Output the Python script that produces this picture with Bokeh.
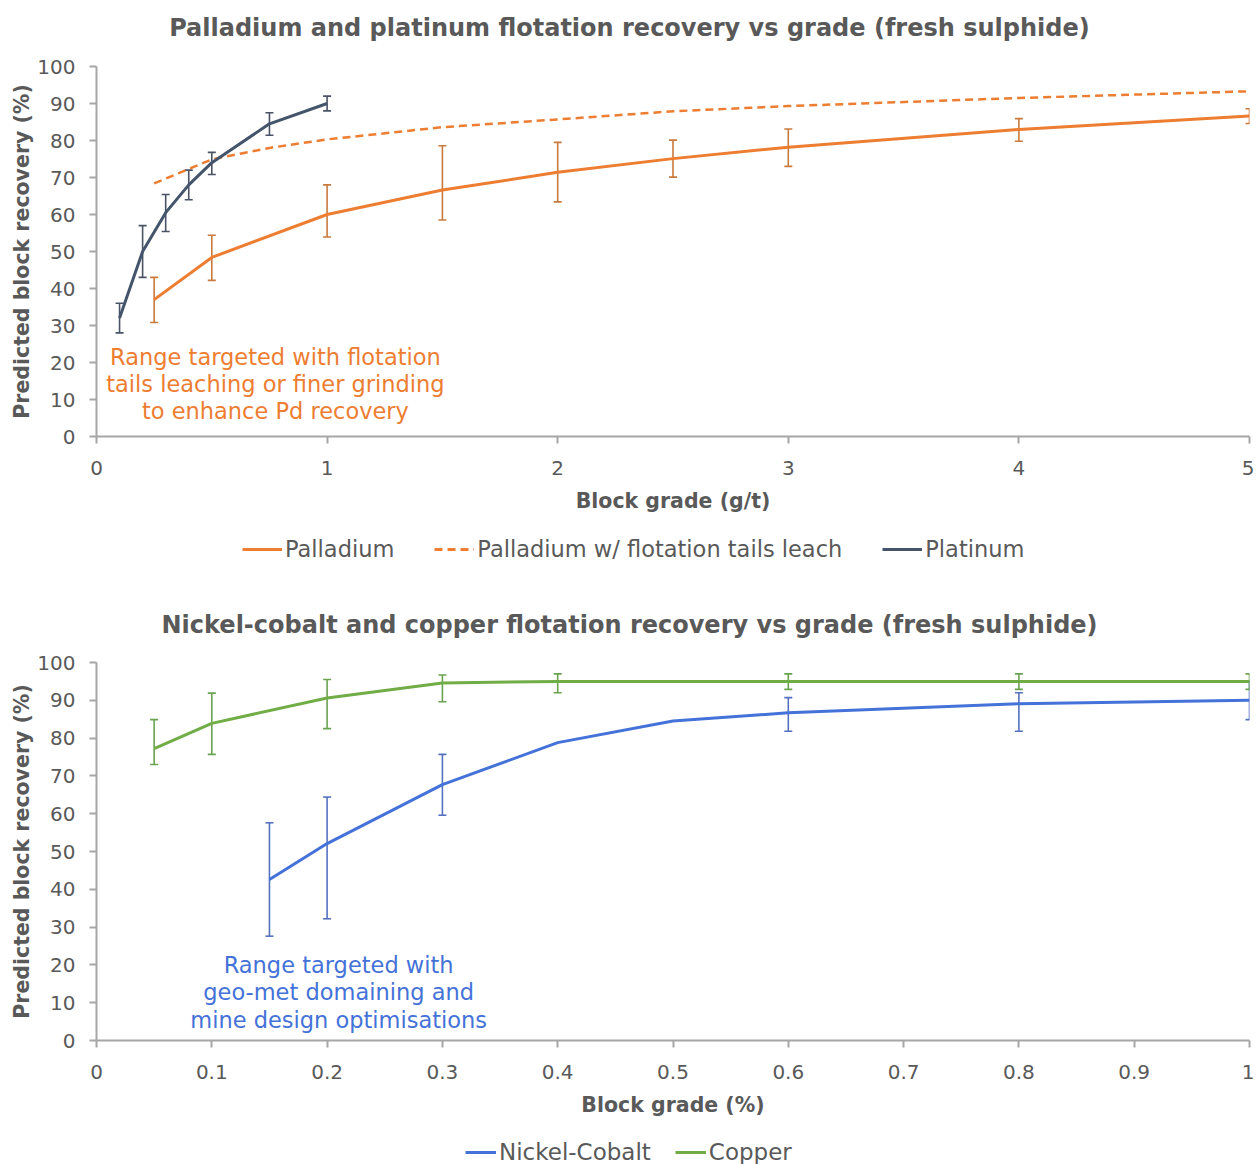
from bokeh.plotting import figure
from bokeh.models import (ColumnDataSource, Whisker, TeeHead, Legend, LegendItem,
                          FixedTicker, Label, Range1d)
from bokeh.layouts import column
from bokeh.embed import file_html
from bokeh.resources import INLINE

# ---------------- DATA: top chart (g/t vs %) ----------------
pd_x = [0.25, 0.5, 1.0, 1.5, 2.0, 2.5, 3.0, 4.0, 5.0]
pd_y = [37.0, 48.4, 60.0, 66.6, 71.4, 75.1, 78.2, 83.0, 86.6]
pd_lo = [30.8, 42.2, 53.9, 58.5, 63.4, 70.1, 73.0, 79.8, 84.6]
pd_hi = [43.0, 54.4, 68.0, 78.6, 79.5, 80.1, 83.1, 85.9, 88.6]

pdl_x = [0.25, 0.5, 0.75, 1.0, 1.5, 2.0, 2.5, 3.0, 4.0, 5.0]
pdl_y = [68.4, 74.9, 78.0, 80.3, 83.6, 85.7, 87.9, 89.3, 91.5, 93.3]

pt_x = [0.1, 0.2, 0.3, 0.4, 0.5, 0.75, 1.0]
pt_y = [32.0, 50.0, 60.5, 68.0, 74.0, 84.5, 90.0]
pt_lo = [28.0, 43.0, 55.4, 64.0, 70.8, 81.4, 88.0]
pt_hi = [36.0, 57.0, 65.4, 72.0, 76.8, 87.5, 92.0]

top_xticks = [0, 1, 2, 3, 4, 5]
y_ticks = [0, 10, 20, 30, 40, 50, 60, 70, 80, 90, 100]

# ---------------- DATA: bottom chart (% vs %) ----------------
ni_x = [0.15, 0.2, 0.3, 0.4, 0.5, 0.6, 0.8, 1.0]
ni_y = [42.6, 52.1, 67.7, 78.8, 84.5, 86.7, 89.1, 90.0]
ni_err_x = [0.15, 0.2, 0.3, 0.6, 0.8, 1.0]
ni_lo = [27.6, 32.2, 59.6, 81.8, 81.8, 84.9]
ni_hi = [57.6, 64.4, 75.7, 90.7, 92.0, 95.0]

cu_x = [0.05, 0.1, 0.2, 0.3, 0.4, 0.6, 0.8, 1.0]
cu_y = [77.2, 83.9, 90.6, 94.6, 95.0, 95.0, 95.0, 95.0]
cu_lo = [73.0, 75.7, 82.5, 89.6, 92.0, 92.9, 92.9, 92.9]
cu_hi = [84.9, 91.9, 95.5, 96.7, 97.0, 97.0, 97.0, 97.0]

bot_xticks = [0, 0.1, 0.2, 0.3, 0.4, 0.5, 0.6, 0.7, 0.8, 0.9, 1]
bot_xlabels = ["0", "0.1", "0.2", "0.3", "0.4", "0.5", "0.6", "0.7", "0.8", "0.9", "1"]

TITLE_TOP = "Palladium and platinum flotation recovery vs grade (fresh sulphide)"
TITLE_BOT = "Nickel-cobalt and copper flotation recovery vs grade (fresh sulphide)"

# ---------------- STYLE ----------------
FONT = "DejaVu Sans"
GREY = "#595959"
AXIS = "#A6A6A6"
ORANGE = "#ED7D31"
ORANGE_ERR = "#C97A3D"
SLATE = "#44546A"
SLATE_ERR = "#4A5365"
BLUE = "#4472D8"
BLUE_ERR = "#5571C0"
GREEN = "#70AD47"
GREEN_ERR = "#6AA350"
W = 1254


def style(p):
    p.outline_line_color = None
    p.xgrid.visible = False
    p.ygrid.visible = False
    for ax in (p.xaxis[0], p.yaxis[0]):
        ax.axis_line_color = AXIS
        ax.axis_line_width = 2
        ax.major_tick_line_color = AXIS
        ax.major_tick_line_width = 2
        ax.major_tick_out = 7
        ax.major_tick_in = 0
        ax.minor_tick_out = 0
        ax.minor_tick_in = 0
        ax.major_label_text_font = FONT
        ax.major_label_text_font_size = "20px"
        ax.major_label_text_color = GREY
        ax.axis_label_text_font = FONT
        ax.axis_label_text_font_size = "20.5px"
        ax.axis_label_text_font_style = "bold"
        ax.axis_label_text_color = GREY
    p.xaxis[0].major_label_standoff = 17
    p.yaxis[0].major_label_standoff = 14
    p.xaxis[0].axis_label_standoff = 11
    p.yaxis[0].axis_label_standoff = 0
    p.yaxis[0].ticker = FixedTicker(ticks=y_ticks)


def strip(height, x_end):
    # blank strip (no axes) used for a chart title or a legend
    f = figure(width=W, height=height, output_backend="svg", toolbar_location=None,
               x_range=Range1d(0, x_end), y_range=Range1d(0, height), min_border=0,
               x_axis_location=None, y_axis_location=None)
    f.outline_line_color = None
    f.xgrid.visible = False
    f.ygrid.visible = False
    return f


def title_fig(height, text, x_end, x, y):
    f = strip(height, x_end)
    f.add_layout(Label(x=x, y=y, text=text, text_align="center", text_baseline="middle",
                       text_font=FONT, text_font_size="24px", text_font_style="bold",
                       text_color=GREY))
    return f


def whisker(p, xs, lo, hi, color):
    src = ColumnDataSource(dict(x=xs, lo=lo, hi=hi))
    w = Whisker(source=src, base="x", lower="lo", upper="hi",
                line_color=color, line_width=1.6,
                upper_head=TeeHead(size=8, line_color=color, line_width=1.6),
                lower_head=TeeHead(size=8, line_color=color, line_width=1.6))
    p.add_layout(w)


def legend_fig(height, specs, loc, glyph_w, spacing, fsize):
    # legend strip: series are drawn off-frame so that only their legend glyphs show
    f = figure(width=W, height=height, output_backend="svg", toolbar_location=None,
               x_range=Range1d(0, 1), y_range=Range1d(-1000, -999), min_border=0,
               x_axis_location=None, y_axis_location=None)
    f.outline_line_color = None
    f.xgrid.visible = False
    f.ygrid.visible = False
    items = []
    for label, xs, ys, color, dash in specs:
        r = f.line(x=xs, y=ys, line_color=color, line_width=3, line_dash=dash)
        items.append(LegendItem(label=label, renderers=[r]))
    leg = Legend(items=items, orientation="horizontal", location=loc,
                 label_text_font=FONT, label_text_font_size=fsize, label_text_color=GREY,
                 glyph_width=glyph_w, glyph_height=20, label_standoff=3, spacing=spacing,
                 padding=0, margin=0, border_line_color=None, background_fill_alpha=0)
    f.add_layout(leg)
    return f


# ---------------- TOP FIGURE ----------------
t1 = title_fig(50, TITLE_TOP, 5, 2.311, 23)

p1 = figure(width=W, height=470, output_backend="svg", toolbar_location=None,
            x_range=Range1d(0, 5), y_range=Range1d(0, 100),
            min_border_left=96, min_border_right=5, min_border_top=16, min_border_bottom=84,
            x_axis_label="Block grade (g/t)", y_axis_label="Predicted block recovery (%)")
style(p1)
p1.xaxis[0].ticker = FixedTicker(ticks=top_xticks)

p1.line(pd_x, pd_y, line_color=ORANGE, line_width=3)
p1.line(pdl_x, pdl_y, line_color=ORANGE, line_width=2.5, line_dash="8 5")
p1.line(pt_x, pt_y, line_color=SLATE, line_width=3)
whisker(p1, pd_x, pd_lo, pd_hi, ORANGE_ERR)
whisker(p1, pt_x, pt_lo, pt_hi, SLATE_ERR)

for txt, yy in [("Range targeted with flotation", 21.6),
                ("tails leaching or finer grinding", 14.2),
                ("to enhance Pd recovery", 6.8)]:
    p1.add_layout(Label(x=0.776, y=yy, text=txt, text_align="center", text_baseline="middle",
                        text_font=FONT, text_font_size="22.5px", text_color=ORANGE))

leg1 = legend_fig(76, [("Palladium", pd_x, pd_y, ORANGE, "solid"),
                       ("Palladium w/ flotation tails leach", pdl_x, pdl_y, ORANGE, "8 5"),
                       ("Platinum", pt_x, pt_y, SLATE, "solid")], (146, 34), 40, 40, "22.5px")

# ---------------- BOTTOM FIGURE ----------------
t2 = title_fig(50, TITLE_BOT, 1, 0.4623, 22)

p2 = figure(width=W, height=478, output_backend="svg", toolbar_location=None,
            x_range=Range1d(0, 1), y_range=Range1d(0, 100),
            min_border_left=96, min_border_right=5, min_border_top=16, min_border_bottom=84,
            x_axis_label="Block grade (%)", y_axis_label="Predicted block recovery (%)")
style(p2)
p2.xaxis[0].ticker = FixedTicker(ticks=bot_xticks)
p2.xaxis[0].major_label_overrides = dict(zip(bot_xticks, bot_xlabels))

p2.line(ni_x, ni_y, line_color=BLUE, line_width=3)
p2.line(cu_x, cu_y, line_color=GREEN, line_width=3)
whisker(p2, ni_err_x, ni_lo, ni_hi, BLUE_ERR)
whisker(p2, cu_x, cu_lo, cu_hi, GREEN_ERR)

for txt, yy in [("Range targeted with", 20.1),
                ("geo-met domaining and", 12.7),
                ("mine design optimisations", 5.4)]:
    p2.add_layout(Label(x=0.21, y=yy, text=txt, text_align="center", text_baseline="middle",
                        text_font=FONT, text_font_size="22.5px", text_color=BLUE))

leg2 = legend_fig(41, [("Nickel-Cobalt", ni_x, ni_y, BLUE, "solid"),
                       ("Copper", cu_x, cu_y, GREEN, "solid")], (369, 0), 31, 24, "23px")

layout = column(t1, p1, leg1, t2, p2, leg2, spacing=0)
open("out.html", "w").write(file_html(layout, INLINE))
